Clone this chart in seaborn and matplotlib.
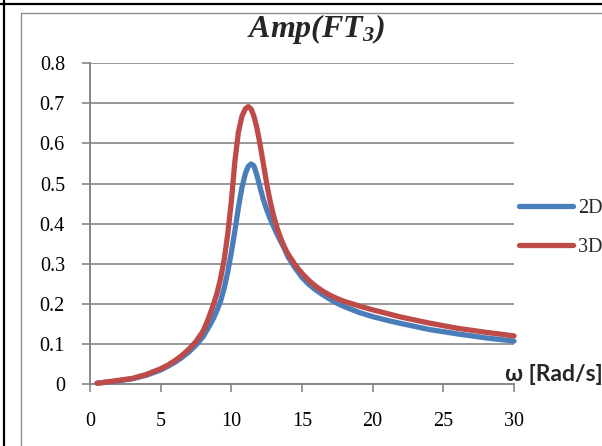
import numpy as np
import pandas as pd
import matplotlib
matplotlib.use("Agg")
import matplotlib.pyplot as plt
import seaborn as sns
from matplotlib.lines import Line2D

# ---- data ----
series_names = ["2D", "3D"]
omega_2d = [0.5, 1, 2, 3, 4, 5, 5.5, 6, 6.5, 7, 7.5, 8, 8.25, 8.5, 8.75, 9, 9.25, 9.5,
            9.75, 10, 10.25, 10.5, 10.75, 11, 11.2, 11.4, 11.6, 11.8, 12, 12.25, 12.5,
            12.75, 13, 13.25, 13.5, 13.75, 14, 14.5, 15, 15.5, 16, 16.5, 17, 17.5, 18,
            19, 20, 21, 22, 24, 26, 28, 30]
amp_2d = [0.002, 0.004, 0.008, 0.013, 0.022, 0.035, 0.044, 0.054, 0.066, 0.08, 0.097,
          0.118, 0.133, 0.148, 0.165, 0.185, 0.208, 0.24, 0.28, 0.328, 0.382, 0.44,
          0.49, 0.526, 0.543, 0.549, 0.544, 0.522, 0.495, 0.462, 0.435, 0.412, 0.392,
          0.373, 0.355, 0.338, 0.318, 0.29, 0.266, 0.248, 0.234, 0.222, 0.211, 0.201,
          0.193, 0.179, 0.168, 0.159, 0.151, 0.136, 0.125, 0.115, 0.107]
omega_3d = [0.5, 1, 2, 3, 4, 5, 5.5, 6, 6.5, 7, 7.5, 8, 8.25, 8.5, 8.75, 9, 9.25, 9.5,
            9.75, 10, 10.25, 10.5, 10.75, 11, 11.2, 11.4, 11.6, 11.8, 12, 12.25, 12.5,
            12.75, 13, 13.25, 13.5, 13.75, 14, 14.5, 15, 15.5, 16, 16.5, 17, 17.5, 18,
            19, 20, 21, 22, 24, 26, 28, 30]
amp_3d = [0.002, 0.004, 0.009, 0.014, 0.024, 0.038, 0.047, 0.058, 0.071, 0.087, 0.106,
          0.132, 0.152, 0.175, 0.2, 0.228, 0.265, 0.312, 0.375, 0.455, 0.555, 0.628,
          0.668, 0.687, 0.692, 0.686, 0.668, 0.64, 0.604, 0.553, 0.5, 0.455, 0.418,
          0.388, 0.363, 0.342, 0.325, 0.298, 0.276, 0.258, 0.243, 0.231, 0.221, 0.213,
          0.206, 0.195, 0.185, 0.176, 0.167, 0.152, 0.139, 0.129, 0.12]
x_ticks = [0, 5, 10, 15, 20, 25, 30]
y_ticks = [0, 0.1, 0.2, 0.3, 0.4, 0.5, 0.6, 0.7, 0.8]
y_tick_labels = ["0", "0.1", "0.2", "0.3", "0.4", "0.5", "0.6", "0.7", "0.8"]
colors = {"2D": "#4A7EBB", "3D": "#BE4B48"}

sns.set_theme(style="white")
plt.rcParams["font.family"] = ["Liberation Serif", "DejaVu Serif"]
plt.rcParams["mathtext.fontset"] = "custom"
plt.rcParams["mathtext.rm"] = "Liberation Serif:bold:italic"
plt.rcParams["mathtext.it"] = "Liberation Serif:bold:italic"
plt.rcParams["mathtext.bf"] = "Liberation Serif:bold:italic"

W, H = 602, 446
fig = plt.figure(figsize=(W / 100, H / 100), dpi=100)
fig.patch.set_facecolor("white")
ax = fig.add_axes([90 / W, 1 - 384 / H, (514 - 90) / W, (384 - 63.3) / H])

df = pd.concat([
    pd.DataFrame({"omega": omega_2d, "amp": amp_2d, "series": "2D"}),
    pd.DataFrame({"omega": omega_3d, "amp": amp_3d, "series": "3D"}),
], ignore_index=True)

sns.lineplot(data=df, x="omega", y="amp", hue="series", hue_order=series_names,
             palette=colors, linewidth=3.8, estimator=None, sort=False,
             legend=False, ax=ax)
for ln in ax.lines:
    ln.set_solid_capstyle("round")
    ln.set_solid_joinstyle("round")
    ln.set_clip_on(False)
    ln.set_zorder(3)

grey = "#878787"
ax.set_xlim(0, 30)
ax.set_ylim(0, 0.8)
ax.set_xticks(x_ticks)
ax.set_xticklabels([str(t) for t in x_ticks])
ax.set_yticks(y_ticks)
ax.set_yticklabels(y_tick_labels)
ax.set_xlabel("")
ax.set_ylabel("")
ax.grid(axis="y", color=grey, linewidth=1.2)
ax.grid(axis="x", visible=False)
ax.set_axisbelow(True)
for s in ["top", "right"]:
    ax.spines[s].set_visible(False)
for s in ["left", "bottom"]:
    ax.spines[s].set_color(grey)
    ax.spines[s].set_linewidth(1.4)
ax.tick_params(axis="both", which="major", direction="out", length=6, width=1.2,
               color=grey, labelsize=14.5, labelcolor="black", left=True, bottom=True)
ax.tick_params(axis="y", pad=12)
ax.tick_params(axis="x", pad=14)

# legend
handles = [Line2D([0], [0], color=colors[n], lw=3.8, solid_capstyle="round") for n in series_names]
leg = ax.legend(handles, series_names, loc="center left",
                bbox_to_anchor=(519 / W, 1 - 228 / H), bbox_transform=fig.transFigure,
                frameon=False, fontsize=14.5, handlelength=2.7, handletextpad=0.25,
                labelspacing=1.0, borderpad=0, borderaxespad=0)

# title and axis label
fig.text(316 / W, 1 - 37 / H, r"$\mathrm{Amp(FT}_{3}\mathrm{)}$", ha="center",
         va="baseline", fontsize=23)
fig.text(603 / W, 1 - 381 / H, "ω [Rad/s]", ha="right", va="baseline",
         fontsize=16.5, fontweight="bold", family=["Lato", "DejaVu Sans"])

# page / chart frame lines
def fline(x0, y0, x1, y1, color, lw):
    fig.add_artist(Line2D([x0 / W, x1 / W], [1 - y0 / H, 1 - y1 / H],
                          transform=fig.transFigure, color=color, lw=lw))

fline(4, 0, 4, H, "black", 1.6)
fline(0, 4, W, 4, "black", 1.6)
fline(21, 13, 21, H, "#8c8c8c", 1.0)
fline(21, 13, W, 13, "#8c8c8c", 1.0)

fig.savefig("out.png", dpi=100, facecolor="white")
